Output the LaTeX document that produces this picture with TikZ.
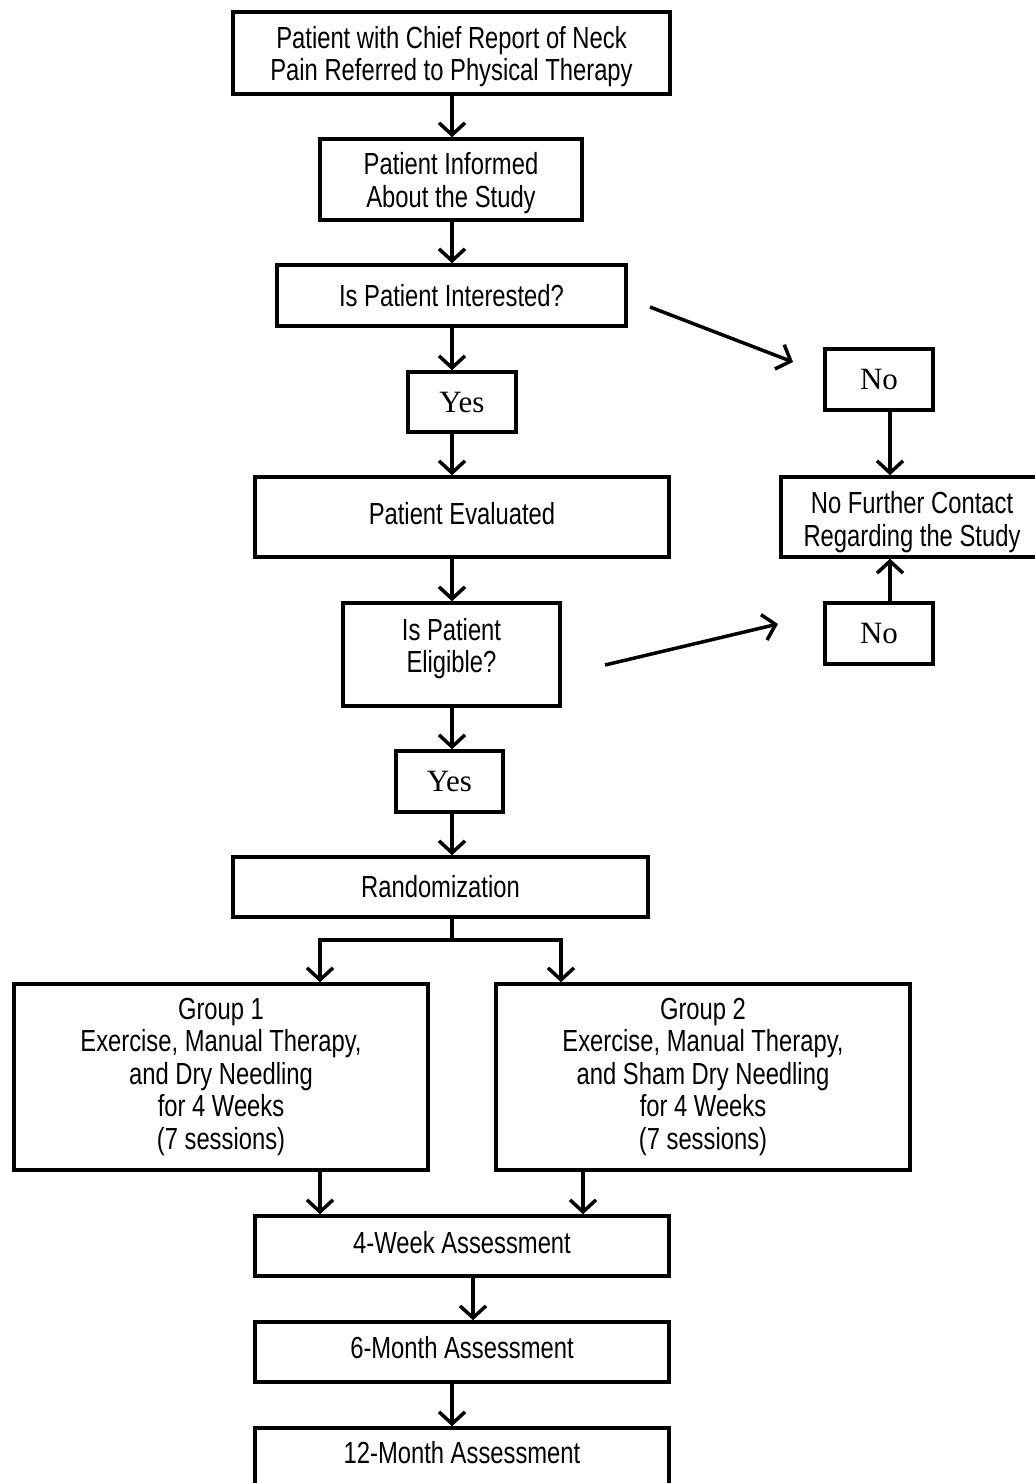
\documentclass[tikz,border=0pt]{standalone}
\usepackage{fontspec}
\setmainfont{Liberation Sans}[FakeStretch=0.78]
\newfontfamily\serifyes{Liberation Serif}
\usetikzlibrary{arrows.meta}
\newcommand{\tbmulti}[2]{\raisebox{#1}[0pt][0pt]{\begin{tabular}{@{}c@{}}#2\end{tabular}}}
\newcommand{\tbline}[2]{\raisebox{#1}[0pt][0pt]{#2}}
\tikzset{
  box/.style={draw, line width=3.5pt, align=center, inner sep=0pt,
    font=\fontsize{30.5}{32.5}\selectfont},
  yesno/.style={draw, line width=3.5pt, align=center, inner sep=0pt,
    font=\serifyes\fontsize{31}{32}\selectfont},
  arr/.style={line width=3.5pt, -{Straight Barb[length=12pt,width=26pt,line width=3.5pt]}},
  plain/.style={line width=3.5pt}
}
\begin{document}
\begin{tikzpicture}[x=1pt,y=-1pt]
\clip (0,0) rectangle (1035,1483);
\fill[white] (0,0) rectangle (1035,1483);
% nodes
\node[box, minimum width=437pt, minimum height=82pt] (top) at (451.5,53) {\tbmulti{-11pt}{Patient with Chief Report of Neck\\Pain Referred to Physical Therapy}};
\node[box, minimum width=262pt, minimum height=81pt] (inform) at (451,179.5) {\tbmulti{-11pt}{Patient Informed\\About the Study}};
\node[box, minimum width=349pt, minimum height=61pt] (interest) at (451.5,295.5) {Is Patient Interested?};
\node[yesno, minimum width=108pt, minimum height=60pt] (yes1) at (462,402) {Yes};
\node[box, minimum width=414pt, minimum height=80pt] (eval) at (462,517) {\tbline{-7.7pt}{Patient Evaluated}};
\node[box, minimum width=217pt, minimum height=103pt] (elig) at (451.5,654.5) {\tbmulti{-1.6pt}{Is Patient\\Eligible?}};
\node[yesno, minimum width=107pt, minimum height=61pt] (yes2) at (449.5,781.5) {Yes};
\node[box, minimum width=415pt, minimum height=60pt] (rand) at (440.5,887) {Randomization};
\node[box, minimum width=414pt, minimum height=186pt] (g1) at (221,1077) {\tbmulti{-7pt}{Group 1\\Exercise, Manual Therapy,\\and Dry Needling\\for 4 Weeks\\(7 sessions)}};
\node[box, minimum width=414pt, minimum height=186pt] (g2) at (703,1077) {\tbmulti{-7pt}{Group 2\\Exercise, Manual Therapy,\\and Sham Dry Needling\\for 4 Weeks\\(7 sessions)}};
\node[box, minimum width=414pt, minimum height=60pt] (w4) at (462,1246) {\tbline{-7.7pt}{4-Week Assessment}};
\node[box, minimum width=414pt, minimum height=60pt] (m6) at (462,1352) {\tbline{-6.7pt}{6-Month Assessment}};
\node[box, minimum width=414pt, minimum height=60pt] (m12) at (462,1458) {\tbline{-5.7pt}{12-Month Assessment}};
\node[yesno, minimum width=108pt, minimum height=61pt] (no1) at (879,379.5) {No};
\node[box, minimum width=262pt, minimum height=80pt] (nofur) at (912,517) {\tbmulti{-12.6pt}{No Further Contact\\Regarding the Study}};
\node[yesno, minimum width=108pt, minimum height=61pt] (no2) at (879,633.5) {No};
% coordinates
\coordinate (cA) at (452,0);
\coordinate (split) at (452,940);
\coordinate (sL) at (320,940);
\coordinate (sR) at (561,940);
\coordinate (gL) at (320,0);
\coordinate (gR) at (583,0);
\coordinate (cW) at (473,0);
\coordinate (cN) at (890,0);
\coordinate (d1a) at (650,307);
\coordinate (d1b) at (793,362);
\coordinate (d2a) at (605,665);
\coordinate (d2b) at (778,624);
% connectors
\draw[arr] (cA |- top.south) -- (cA |- inform.north);
\draw[arr] (cA |- inform.south) -- (cA |- interest.north);
\draw[arr] (cA |- interest.south) -- (cA |- yes1.north);
\draw[arr] (cA |- yes1.south) -- (cA |- eval.north);
\draw[arr] (cA |- eval.south) -- (cA |- elig.north);
\draw[arr] (cA |- elig.south) -- (cA |- yes2.north);
\draw[arr] (cA |- yes2.south) -- (cA |- rand.north);
\draw[plain] (cA |- rand.south) -- (split);
\draw[plain, line cap=rect] (sL) -- (sR);
\draw[arr] (sL) -- (sL |- g1.north);
\draw[arr] (sR) -- (sR |- g2.north);
\draw[arr] (gL |- g1.south) -- (gL |- w4.north);
\draw[arr] (gR |- g2.south) -- (gR |- w4.north);
\draw[arr] (cW |- w4.south) -- (cW |- m6.north);
\draw[arr] (cA |- m6.south) -- (cA |- m12.north);
\draw[arr] (d1a) -- (d1b);
\draw[arr] (d2a) -- (d2b);
\draw[arr] (cN |- no1.south) -- (cN |- nofur.north);
\draw[arr] (cN |- no2.north) -- (cN |- nofur.south);
\end{tikzpicture}
\end{document}
